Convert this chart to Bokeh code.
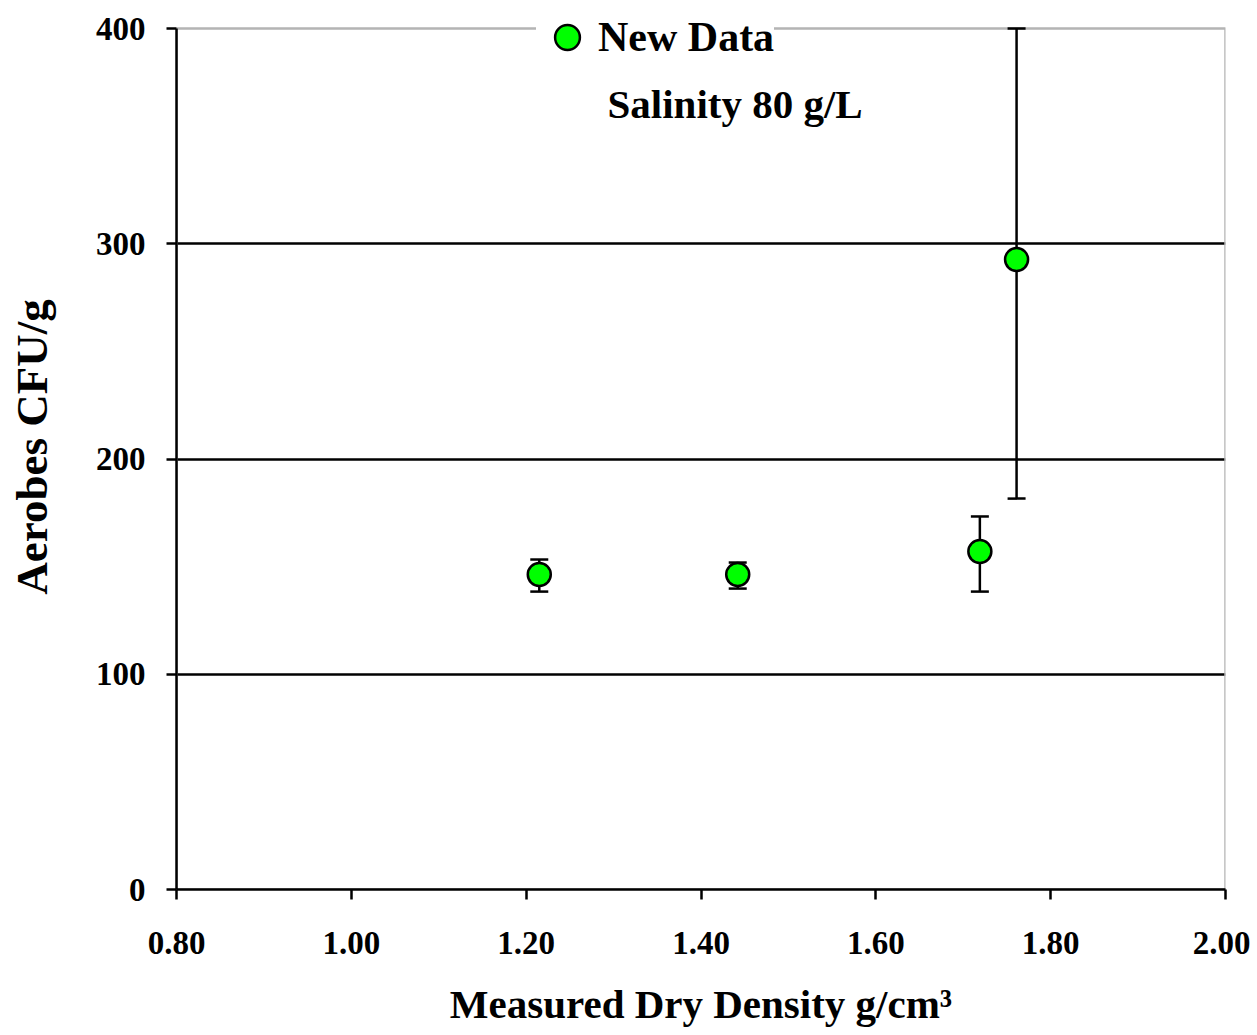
from bokeh.plotting import figure
from bokeh.models import (ColumnDataSource, Whisker, FixedTicker, Legend, LegendItem, Label,
                          Range1d, TeeHead, BoxAnnotation)
from bokeh.embed import file_html
from bokeh.resources import INLINE

# Data
density = [1.215, 1.442, 1.719, 1.761]
aerobes = [146.3, 146.3, 157.0, 292.7]
err_upper = [153.3, 151.9, 173.3, 400.0]
err_lower = [138.4, 139.8, 138.4, 181.6]
x_ticks = [0.8, 1.0, 1.2, 1.4, 1.6, 1.8, 2.0]
x_tick_labels = ["0.80", "1.00", "1.20", "1.40", "1.60", "1.80", "2.00"]
y_ticks = [0, 100, 200, 300, 400]
grid_values = [100, 200, 300]
series_name = "New Data"
annotation = "Salinity 80 g/L"

FONT = "Liberation Serif"
X_MIN, X_MAX, Y_MIN, Y_MAX = 0.8, 2.0, 0, 400

src = ColumnDataSource(dict(x=density, y=aerobes, upper=err_upper, lower=err_lower))

p = figure(width=1250, height=1035, output_backend="svg", toolbar_location=None,
           x_range=Range1d(X_MIN, X_MAX), y_range=Range1d(Y_MIN, 411.15),
           min_border_left=176, min_border_top=4, min_border_right=25, min_border_bottom=146)

p.background_fill_color = "white"
p.border_fill_color = "white"
p.outline_line_color = None

# plot-area border (light gray), under axes
p.add_layout(BoxAnnotation(left=X_MIN, right=X_MAX, bottom=Y_MIN, top=Y_MAX,
                           fill_alpha=0, line_color="#b4b4b4", line_alpha=1.0,
                           line_width=2.5, level="underlay"))

# Axes
p.xaxis.ticker = FixedTicker(ticks=x_ticks)
p.xaxis.major_label_overrides = {t: l for t, l in zip(x_ticks, x_tick_labels)}
p.yaxis.ticker = FixedTicker(ticks=y_ticks)
p.yaxis.bounds = (Y_MIN, Y_MAX)
for ax in (p.xaxis[0], p.yaxis[0]):
    ax.axis_line_color = "black"
    ax.axis_line_width = 2.5
    ax.major_tick_line_color = "black"
    ax.major_tick_line_width = 2.5
    ax.major_tick_out = 10
    ax.major_tick_in = 0
    ax.minor_tick_line_color = None
    ax.major_label_text_font = FONT
    ax.major_label_text_font_style = "bold"
    ax.major_label_text_font_size = "33px"
    ax.major_label_text_color = "black"
    ax.axis_label_text_font = FONT
    ax.axis_label_text_font_style = "bold"
    ax.axis_label_text_color = "black"

p.xaxis.axis_label = "Measured Dry Density g/cm\u00b3"
p.yaxis.axis_label = "Aerobes CFU/g"
p.xaxis.axis_label_text_font_size = "41px"
p.yaxis.axis_label_text_font_size = "45px"
p.xaxis.major_label_standoff = 32
p.xaxis.axis_label_standoff = 24
p.yaxis.major_label_standoff = 21
p.yaxis.axis_label_standoff = 36

# Grid
p.xgrid.grid_line_color = None
p.ygrid.ticker = FixedTicker(ticks=grid_values)
p.ygrid.grid_line_color = "black"
p.ygrid.grid_line_width = 2.5

# Error bars
wh = Whisker(source=src, base="x", upper="upper", lower="lower",
             line_color="black", line_width=2.5,
             upper_head=TeeHead(size=18, line_color="black", line_width=2.5),
             lower_head=TeeHead(size=18, line_color="black", line_width=2.5))
p.add_layout(wh)

r = p.scatter("x", "y", source=src, size=23, marker="circle",
              fill_color="#00ff00", line_color="black", line_width=2.5)

legend = Legend(items=[LegendItem(label=series_name, renderers=[r])],
                location=(360, 821), orientation="vertical",
                background_fill_color="white", background_fill_alpha=1.0,
                border_line_color=None, padding=0, margin=0, spacing=0,
                glyph_width=62, glyph_height=62, label_standoff=-6,
                label_text_font=FONT, label_text_font_style="bold",
                label_text_font_size="42px", label_text_color="black")
p.add_layout(legend)

p.add_layout(Label(x=1.439, y=365, text=annotation, text_align="center", text_baseline="middle",
                   text_font=FONT, text_font_style="bold", text_font_size="41px",
                   text_color="black"))

open("out.html", "w").write(file_html(p, INLINE))
